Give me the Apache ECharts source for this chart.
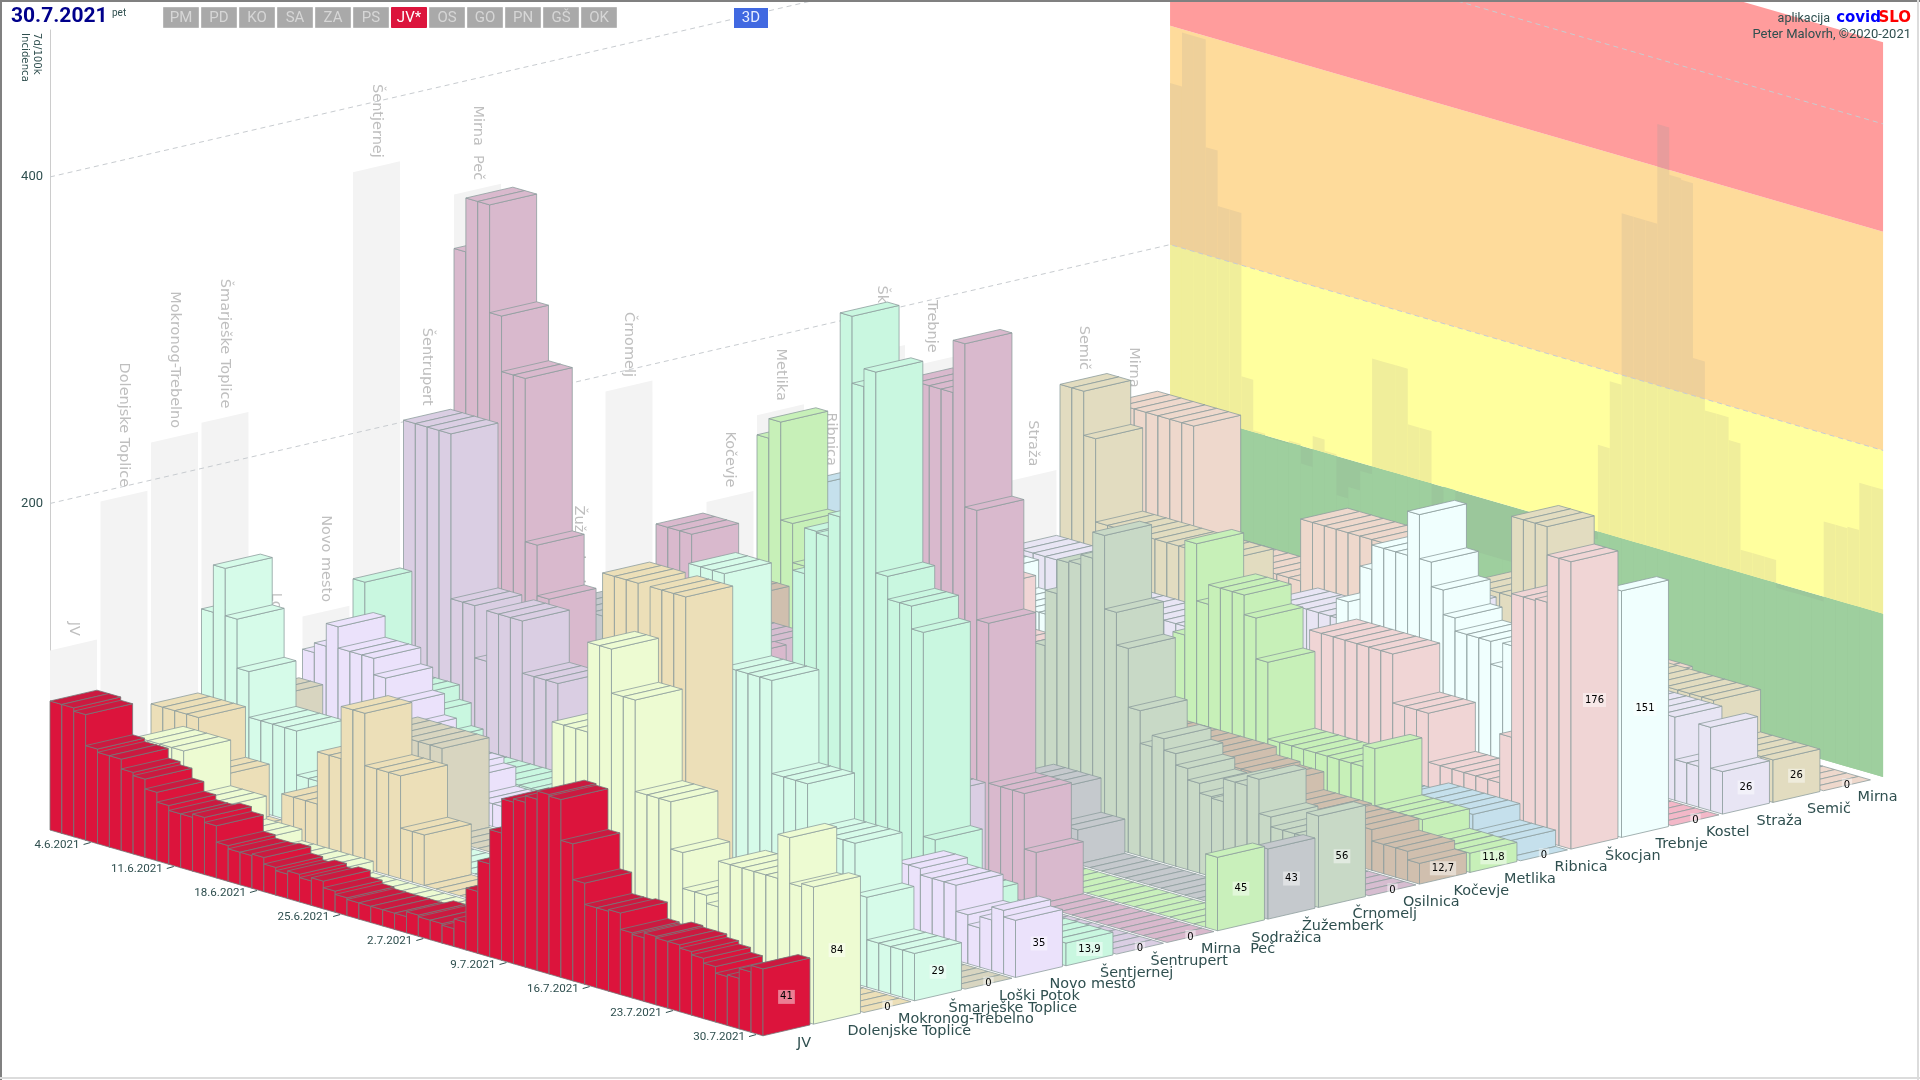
<!DOCTYPE html>
<html><head><meta charset="utf-8">
<style>html,body{margin:0;padding:0;background:#fff}#c{width:1920px;height:1080px}</style>
<script src="https://cdn.jsdelivr.net/npm/echarts@6/dist/echarts.min.js"></script>
</head><body><div id="c"></div>
<script>
// ---------- data ----------
const municipalities=["JV","Dolenjske Toplice","Mokronog-Trebelno","Šmarješke Toplice","Loški Potok","Novo mesto","Šentjernej","Šentrupert","Mirna  Peč","Sodražica","Žužemberk","Črnomelj","Osilnica","Kočevje","Metlika","Ribnica","Škocjan","Trebnje","Kostel","Straža","Semič","Mirna"];
const colors=["#dc143c","#edfbd2","#ecdfb8","#d6fbe9","#d8d5c0","#ebe2fb","#c9f7e0","#dacee3","#d9b9cd","#c9f0bb","#c5c9cd","#c8d9c6","#d6bdd0","#d0bfae","#c7f0b8","#c5e0ec","#f0d5d5","#f0fffe","#f3b8c8","#e8e5f4","#e2dcc0","#eed8cc"];
const tickLabels=["4.6.2021","11.6.2021","18.6.2021","25.6.2021","2.7.2021","9.7.2021","16.7.2021","23.7.2021","30.7.2021"];
const tickDays=[3,10,17,24,31,38,45,52,59];
const bandStops=[0,100,200,334,450];
const bandColors=["#9bc79b","#ffff9e","#fedb9b","#ff9c9c"];
const bandShadow=["#9ecf9e","#f0ee9b","#eed09a","#e89c9c"];
const gridValues=[200,400];
const buttons=["PM","PD","KO","SA","ZA","PS","JV*","OS","GO","PN","GŠ","OK"];

const vJV=[79,79,77,58,56,56,50,48,42,36, 33,33,35,32,22,20,20,21,17,15, 17,15,17,13,11,10,10,10,10,10, 13,12,12,11,17,38,57,78,99,101, 105,110,109,84,62,49,49,50,40,39, 42,41,41,39,37,34,30,31,37,41];
const vDT=[28,28,28,56,56,56,56,28,28,28, 14,14,14,7,7,7,7,7,7,0, 0,0,0,0,0,0,0,0,0,0, 0,0,0,0,14,28,28,28,139,139, 139,194,194,167,167,111,111,111,82,60, 60,55,83,83,83,83,83,110,82,84];
const vMT=[63,63,63,63,32,32,0,0,0,0, 0,31,31,31,63,63,95,95,63,63, 63,31,31,0,0,0,0,0,0,0, 0,0,0,0,0,31,31,31,223,223, 223,150,223,223,223,0,0,0,0,0, 0,0,0,0,0,0,0,0,0,0];
const vST=[114,143,114,84,56,56,56,56,29,29, 29,0,0,0,0,0,0,0,0,0, 0,0,0,0,0,0,0,0,0,0, 0,0,0,0,0,0,56,56,114,114, 114,228,228,228,171,171,171,171,114,114, 114,86,86,86,86,55,29,29,29,29];
const vLP=[58,58,0,0,0,0,0,0,0,0, 55,55,55,55,55,55,0,0,0,0, 0,0,0,0,0,0,0,0,0,0, 0,0,0,0,0,0,0,0,0,0, 0,0,0,0,0,0,0,0,0,0, 0,0,0,0,0,0,0,0,0,0];
const vNM=[75,81,95,82,82,82,72,58,45,30, 30,30,30,26,14,14,14,14,0,0, 0,0,0,0,0,0,0,0,0,0, 0,0,0,0,0,0,0,0,25,25, 25,25,25,25,25,25,25,25,25,25, 50,50,46,46,46,30,24,31,39,35];
const vSj=[111,50,50,50,50,41,27,14,14,14, 14,14,14,14,14,14,14,14,14,14, 0,0,0,0,0,14,14,14,14,14, 14,14,28,28,28,28,28,194,222,221, 235,360,319,330,207,193,193,179,54,27, 27,27,14,14,14,14,14,14,14,13.9];
const vSr=[201,201,201,201,100,100,68,99,99,99, 67,67,67,33,33,33,33,33,0,0, 0,0,0,0,0,0,0,0,0,0, 0,0,0,0,0,0,0,0,67,67, 67,67,67,67,67,0,0,0,0,0, 0,0,0,0,0,0,0,0,0,0];
const vMP=[299,332,332,266,232,232,132,101,33,33, 33,33,33,33,33,33,33,166,166,166, 132,132,66,100,66,66,66,66,66,66, 66,66,66,66,66,66,66,166,299,299, 299,299,331,231,164,66,66,66,32,0, 0,0,0,0,0,0,0,0,0,0];
const vSo=[0,0,0,0,0,0,0,0,0,0, 0,0,0,0,0,0,0,0,0,0, 45,45,45,45,45,45,45,0,0,0, 0,0,0,0,0,0,0,0,0,0, 0,0,0,0,0,0,0,0,0,0, 0,0,0,0,0,0,0,0,0,45];
const vZu=[68,68,68,68,68,68,68,34,34,34, 34,34,34,34,17,17,17,17,17,17, 17,17,17,17,17,17,17,17,17,17, 17,17,17,17,17,17,17,17,42,42, 42,42,21,21,0,0,0,0,0,0, 0,0,0,0,0,0,0,0,0,43];
const vCr=[28,28,28,28,28,28,28,28,28,28, 28,28,28,28,28,28,28,28,28,28, 28,28,28,28,28,28,28,28,28,28, 28,28,28,28,28,95,112,146,167,168, 174,190,145,125,89,69,76,69,62,55, 49,48,62,62,68,47,41,41,41,56];
const vOs=[0,0,0,0,47,47,47,47,47,0, 0,0,0,0,0,0,0,0,0,0, 0,0,0,0,0,0,0,0,0,0, 0,0,0,0,0,0,0,0,0,0, 0,0,0,0,0,0,0,0,0,0, 0,0,0,0,0,0,0,0,0,0];
const vKo=[56,56,56,28,28,28,28,28,28,28, 101,89,108,101,76,83,66,28,28,28, 28,28,28,28,28,28,28,28,28,28, 28,44,44,44,44,44,44,44,44,44, 44,44,44,44,39,39,37,37,26,26, 26,26,25,25,25,25,18,18,18,12.7];
const vMe=[142,154,94,70,70,24,24,24,24,24, 24,24,24,24,24,24,24,24,24,24, 24,24,24,24,24,24,24,24,24,24, 24,24,24,24,60,95,153,118,130,130, 130,118,93,46,46,46,46,46,46,46, 46,59,24,24,24,24,12,12,11.8,11.8];
const vRi=[107,80,80,80,80,14,14,14,14,14, 14,14,14,14,14,14,14,14,14,14, 14,14,14,14,14,14,14,14,14,14, 14,14,14,14,14,14,14,14,14,14, 14,14,14,14,14,14,14,14,14,14, 20,20,20,20,20,20,10,10,10,0];
const vSk=[0,0,0,0,0,58,58,58,58,58, 58,25,25,25,25,25,25,25,25,25, 25,0,0,0,0,0,0,0,0,0, 0,0,0,0,0,0,0,0,88,88, 88,88,88,88,88,58,58,58,28,28, 28,28,28,28,58,146,146,147,176,176];
const vTr=[30,30,30,30,30,52,52,35,35,35, 35,35,35,14,14,14,14,14,14,14, 14,14,14,14,14,14,14,14,14,14, 20,20,20,20,20,20,96,30,120,135, 135,135,162,135,120,105,97,97,97,83, 98,97,97,97,97,97,97,97,97,151];
const vKs=[0,0,0,0,0,0,0,0,0,0, 0,0,0,0,0,0,0,0,0,0, 0,0,0,0,0,0,0,0,0,0, 0,0,0,0,0,0,0,0,0,0, 20,20,20,20,20,20,0,0,0,0, 0,0,0,0,0,0,0,0,0,0];
const vSt=[38,38,38,38,38,38,20,20,20,20, 20,20,20,20,20,20,20,20,20,20, 20,20,52,52,52,52,52,52,52,52, 52,52,78,78,78,78,78,51,51,51, 51,51,51,51,51,51,51,51,51,51, 51,51,51,51,51,51,25,25,51,26];
const vSe=[130,130,103,52,52,52,52,52,52,52, 52,52,52,52,26,26,26,26,26,26, 26,26,26,26,26,26,26,26,26,26, 26,26,26,26,80,80,80,80,129,129, 129,52,52,52,52,52,52,52,52,52, 52,52,52,52,52,26,26,26,26,26];
const vMi=[112,112,112,112,112,112,112,36,36,36, 36,36,36,36,36,36,74,74,74,74, 74,74,74,20,20,20,20,20,20,20, 20,20,20,20,20,20,20,20,20,20, 38,38,38,38,38,0,0,0,0,0, 0,0,0,0,0,0,0,0,0,0];
const table=[vJV,vDT,vMT,vST,vLP,vNM,vSj,vSr,vMP,vSo,vZu,vCr,vOs,vKo,vMe,vRi,vSk,vTr,vKs,vSt,vSe,vMi];

// ---------- oblique projection: the grid gives day -> x and value -> y; the depth shear is added ----------
const DAY_DY=3.43, MUNI_DX=50.5, MUNI_DY=-11.67, WALL=22.18, BAR=0.93;
const P=(api,t,m,v)=>{const p=api.coord([t,v]);return [p[0]+m*MUNI_DX,p[1]+t*DAY_DY+m*MUNI_DY];};
const poly=(pts,fill,stroke,lw)=>({type:'polygon',shape:{points:pts},style:{fill:fill,stroke:stroke||null,lineWidth:lw||0}});
const INK='#2f4f4f', FONT='"DejaVu Sans",sans-serif', NARROW='Roboto,sans-serif';
const fmt=v=>String(v).replace('.',',');

const barData=[];
for(let j=table.length-1;j>=0;j--)for(let i=0;i<60;i++)barData.push([i,table[j][i],j]);
const maxByDay=[];for(let i=0;i<60;i++)maxByDay.push([i,Math.max(...table.map(r=>r[i]))]);
const maxByMuni=table.map((r,j)=>[0,Math.max(...r),j]);

function renderBar(params,api){
  const i=api.value(0),v=api.value(1),j=api.value(2),c=colors[j];
  const st=j===0?'#76787a':'#8e9e9e', m1=j+BAR;
  const kids=[];
  if(v>0){
    kids.push(poly([P(api,i,j,0),P(api,i+1,j,0),P(api,i+1,j,v),P(api,i,j,v)],c,st,0.8));
    kids.push(poly([P(api,i+1,j,0),P(api,i+1,m1,0),P(api,i+1,m1,v),P(api,i+1,j,v)],c,st,0.8));
  }
  kids.push(poly([P(api,i,j,v),P(api,i+1,j,v),P(api,i+1,m1,v),P(api,i,m1,v)],j===0?'#cb1a40':c,st,0.8));
  if(i===59){
    const a=P(api,60,j+BAR/2,v/2);
    kids.push({type:'text',x:a[0],y:a[1],style:{text:fmt(v),fill:'#000',font:'10px '+FONT,align:'center',verticalAlign:'middle',backgroundColor:'rgba(255,255,255,0.45)',padding:[2,2]}});
  }
  return {type:'group',children:kids};
}
const series=[
 {type:'custom',z:2,coordinateSystem:'cartesian2d',silent:true,data:bandColors.map((c,k)=>[0,bandStops[k],bandStops[k+1],k]),encode:{x:0,y:1},
  renderItem:(p,api)=>{const lo=api.value(1),hi=api.value(2),k=api.value(3);
    return poly([P(api,0,WALL,lo),P(api,60,WALL,lo),P(api,60,WALL,hi),P(api,0,WALL,hi)],bandColors[k]);}},
 {type:'custom',z:3,coordinateSystem:'cartesian2d',silent:true,data:maxByDay,encode:{x:0,y:1},
  renderItem:(p,api)=>{const i=api.value(0),v=api.value(1),kids=[];
    bandShadow.forEach((c,k)=>{const lo=bandStops[k],hi=Math.min(v,bandStops[k+1]);
      if(hi>lo)kids.push(poly([P(api,i,WALL,lo),P(api,i+1,WALL,lo),P(api,i+1,WALL,hi),P(api,i,WALL,hi)],c));});
    return {type:'group',children:kids};}},
 {type:'custom',z:4,coordinateSystem:'cartesian2d',silent:true,data:maxByMuni,encode:{x:0,y:1},
  renderItem:(p,api)=>{const v=api.value(1),j=api.value(2),top=P(api,0,j+BAR/2,v);
    return {type:'group',children:[
      poly([P(api,0,j,0),P(api,0,j+BAR,0),P(api,0,j+BAR,v),P(api,0,j,v)],'#f3f3f3'),
      {type:'text',x:top[0],y:top[1]-9,rotation:-Math.PI/2,style:{text:municipalities[j],x:0,y:0,fill:'#bfbfbf',font:'14.5px '+FONT,align:'right',verticalAlign:'middle'}}
    ]};}},
 {type:'custom',z:5,coordinateSystem:'cartesian2d',silent:true,data:gridValues.map(v=>[0,v]),encode:{x:0,y:1},
  renderItem:(p,api)=>{const v=api.value(1);
    return {type:'polyline',shape:{points:[P(api,0,0,v),P(api,0,WALL,v),P(api,60,WALL,v)]},style:{fill:null,stroke:'#c8ccd0',lineWidth:1,lineDash:[5,4]}};}},
 {type:'custom',z:6,coordinateSystem:'cartesian2d',silent:true,progressive:0,data:barData,encode:{x:0,y:1},renderItem:renderBar},
 {type:'custom',z:7,coordinateSystem:'cartesian2d',silent:true,data:municipalities.map((n,j)=>[60,0,j]),encode:{x:0,y:1},
  renderItem:(p,api)=>{const j=api.value(2),a=P(api,60,j,0);
    return {type:'text',x:a[0]+34,y:a[1]+7,style:{text:municipalities[j],fill:INK,font:'14.4px '+FONT,align:'left',verticalAlign:'middle'}};}},
 {type:'custom',z:7,coordinateSystem:'cartesian2d',silent:true,data:tickDays.map((d,k)=>[d+0.5,0,k]),encode:{x:0,y:1},
  renderItem:(p,api)=>{const t=api.value(0),k=api.value(2),a=P(api,t,0,0);
    return {type:'group',children:[
      {type:'line',shape:{x1:a[0]-8,y1:a[1]+2.5,x2:a[0]-1,y2:a[1]+0.5},style:{stroke:INK,lineWidth:1}},
      {type:'text',x:a[0]-12,y:a[1]+3,style:{text:tickLabels[k],fill:INK,font:'11.6px '+NARROW,align:'right',verticalAlign:'middle'}}
    ]};}}
];
const chrome=[];
buttons.forEach((b,k)=>{const on=b==='JV*';
  chrome.push({type:'rect',shape:{x:163.5+k*38,y:7.5,width:35,height:20},style:{fill:on?'#dc143c':'#a9a9a9',stroke:on?'#dc143c':'#b8b8b8',lineWidth:1}});
  chrome.push({type:'text',x:181+k*38,y:18,style:{text:b,fill:on?'#fff':'#d6d6d6',font:'15px '+NARROW,align:'center',verticalAlign:'middle'}});});
chrome.push({type:'rect',shape:{x:734,y:8,width:34,height:20},style:{fill:'#4169e1'}});
chrome.push({type:'text',x:751,y:18,style:{text:'3D',fill:'#e8eeff',font:'15px '+NARROW,align:'center',verticalAlign:'middle'}});
chrome.push({type:'text',x:11,y:17,style:{text:'30.7.2021',fill:'#00008b',font:'bold 21px '+NARROW,align:'left',verticalAlign:'middle',shadowColor:'rgba(0,0,0,0.3)',shadowBlur:1,shadowOffsetX:1,shadowOffsetY:1}});
chrome.push({type:'text',x:112,y:13,style:{text:'pet',fill:INK,font:'10px '+NARROW,align:'left',verticalAlign:'middle'}});
chrome.push({type:'text',x:37,y:33,rotation:-Math.PI/2,style:{text:'7d/100k',x:0,y:0,fill:INK,font:'10.2px '+FONT,align:'left',verticalAlign:'middle'}});
chrome.push({type:'text',x:25,y:33,rotation:-Math.PI/2,style:{text:'Incidenca',x:0,y:0,fill:INK,font:'10.2px '+FONT,align:'left',verticalAlign:'middle'}});
chrome.push({type:'text',x:1911,y:18,style:{text:'SLO',fill:'#f00',font:'bold 15px '+FONT,align:'right',verticalAlign:'middle'}});
chrome.push({type:'text',x:1881,y:18,style:{text:'covid',fill:'#00f',font:'bold 15px '+FONT,align:'right',verticalAlign:'middle'}});
chrome.push({type:'text',x:1830,y:19,style:{text:'aplikacija',fill:INK,font:'12.5px '+NARROW,align:'right',verticalAlign:'middle'}});
chrome.push({type:'text',x:1911,y:35,style:{text:'Peter Malovrh, ©2020-2021',fill:INK,font:'13px '+NARROW,align:'right',verticalAlign:'middle'}});
chrome.push({type:'line',shape:{x1:1,y1:0,x2:1,y2:1080},style:{stroke:'#808080',lineWidth:2}});
chrome.push({type:'line',shape:{x1:0,y1:1,x2:1920,y2:1},style:{stroke:'#808080',lineWidth:2}});
chrome.push({type:'line',shape:{x1:1918,y1:0,x2:1918,y2:1080},style:{stroke:'#dcdcdc',lineWidth:2}});
chrome.push({type:'line',shape:{x1:0,y1:1078,x2:1920,y2:1078},style:{stroke:'#dcdcdc',lineWidth:2}});

const chart=echarts.init(document.getElementById('c'),null,{renderer:'canvas'});
chart.setOption({
  animation:false,backgroundColor:'#fff',
  grid:{left:50,top:30,width:713,height:800},
  xAxis:{type:'value',min:0,max:60,show:false},
  yAxis:{type:'value',min:0,max:490,interval:200,splitLine:{show:false},axisTick:{show:false},
    axisLine:{show:true,lineStyle:{color:'#ccc'}},z:1,
    axisLabel:{color:INK,fontSize:13,fontFamily:'Roboto',margin:7,showMaxLabel:false,formatter:v=>(v===200||v===400)?String(v):''}},
  graphic:{elements:chrome.map(e=>Object.assign({z:100},e))},
  series:series
});
</script></body></html>
